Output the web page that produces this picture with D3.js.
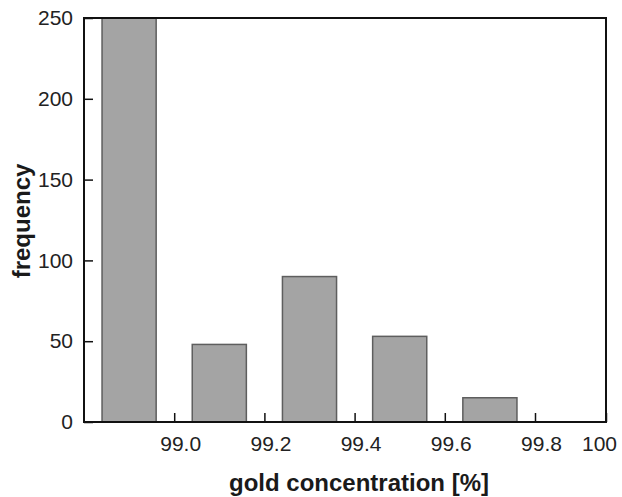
<!DOCTYPE html>
<html>
<head>
<meta charset="utf-8">
<script src="https://cdn.jsdelivr.net/npm/d3@7"></script>
<style>
    body { margin: 0; background: #fff; }
    .axis text { font-family: "Liberation Sans", Arial, sans-serif; font-size: 21px; fill: #222; }
    .axis line { stroke: #111; stroke-width: 1.5px; }
    .axis-label { font-family: "Liberation Sans", Arial, sans-serif; font-weight: bold; font-size: 24px; fill: #1a1a1a; }
</style>
</head>
<body>
<div id="chart"></div>
<script>
// histogram bins (bin centre, % gold) and counts
let binCenters = [98.9, 99.1, 99.3, 99.5, 99.7];
let frequencies = [250, 48, 90, 53, 15];
let binWidth = 0.12;

let xTickValues = [99.0, 99.2, 99.4, 99.6, 99.8, 100];
let xTickLabels = ["99.0", "99.2", "99.4", "99.6", "99.8", "100"];
let yTickValues = [0, 50, 100, 150, 200, 250];

let margin = {top: 18, right: 16, bottom: 75, left: 84};
let width = 622 - margin.left - margin.right;
let height = 497 - margin.top - margin.bottom;

let svg = d3.select("#chart").append("svg")
    .attr("width", 622)
    .attr("height", 497);

let g = svg.append("g")
    .attr("transform", `translate(${margin.left}, ${margin.top})`);

// the printed axis squeezes the last interval (99.8 - 100) into the frame
let x = d3.scaleLinear()
    .domain([98.8, 99.8, 100])
    .range([0, 451, width]);

let y = d3.scaleLinear()
    .domain([0, 250])
    .range([height, 0]);

g.append("clipPath")
    .attr("id", "plot-clip")
    .append("rect")
    .attr("width", width)
    .attr("height", height);

// bars
g.append("g")
    .attr("clip-path", "url(#plot-clip)")
    .selectAll(".bar")
    .data(binCenters)
    .enter().append("rect")
    .attr("class", "bar")
    .attr("x", (d) => x(d - binWidth / 2))
    .attr("width", (d) => x(d + binWidth / 2) - x(d - binWidth / 2))
    .attr("y", (d, i) => y(frequencies[i]))
    .attr("height", (d, i) => height - y(frequencies[i]))
    .attr("fill", "#a4a4a4")
    .attr("stroke", "#5e5e5e")
    .attr("stroke-width", 1.5);

// axes with inward ticks
let xAxis = d3.axisBottom(x)
    .tickValues(xTickValues)
    .tickFormat((d, i) => xTickLabels[i])
    .tickSizeInner(-9)
    .tickSizeOuter(0)
    .tickPadding(14);

let xg = g.append("g")
    .attr("class", "axis")
    .attr("transform", `translate(0, ${height})`)
    .call(xAxis);
xg.select(".domain").remove();
// labels sit a little right of their ticks; the last one is pulled inside the frame
xg.selectAll("text").attr("dx", (d) => d === 100 ? -7 : 6);

let yAxis = d3.axisLeft(y)
    .tickValues(yTickValues)
    .tickSizeInner(-9)
    .tickSizeOuter(0)
    .tickPadding(11);

let yg = g.append("g")
    .attr("class", "axis")
    .call(yAxis);
yg.select(".domain").remove();

// frame
g.append("rect")
    .attr("width", width)
    .attr("height", height)
    .attr("fill", "none")
    .attr("stroke", "#111")
    .attr("stroke-width", 2);

// axis titles
svg.append("text")
    .attr("class", "axis-label")
    .attr("x", 359)
    .attr("y", 491)
    .attr("text-anchor", "middle")
    .text("gold concentration [%]");

svg.append("text")
    .attr("class", "axis-label")
    .attr("transform", "translate(30, 221) rotate(-90)")
    .attr("text-anchor", "middle")
    .text("frequency");
</script>
</body>
</html>
